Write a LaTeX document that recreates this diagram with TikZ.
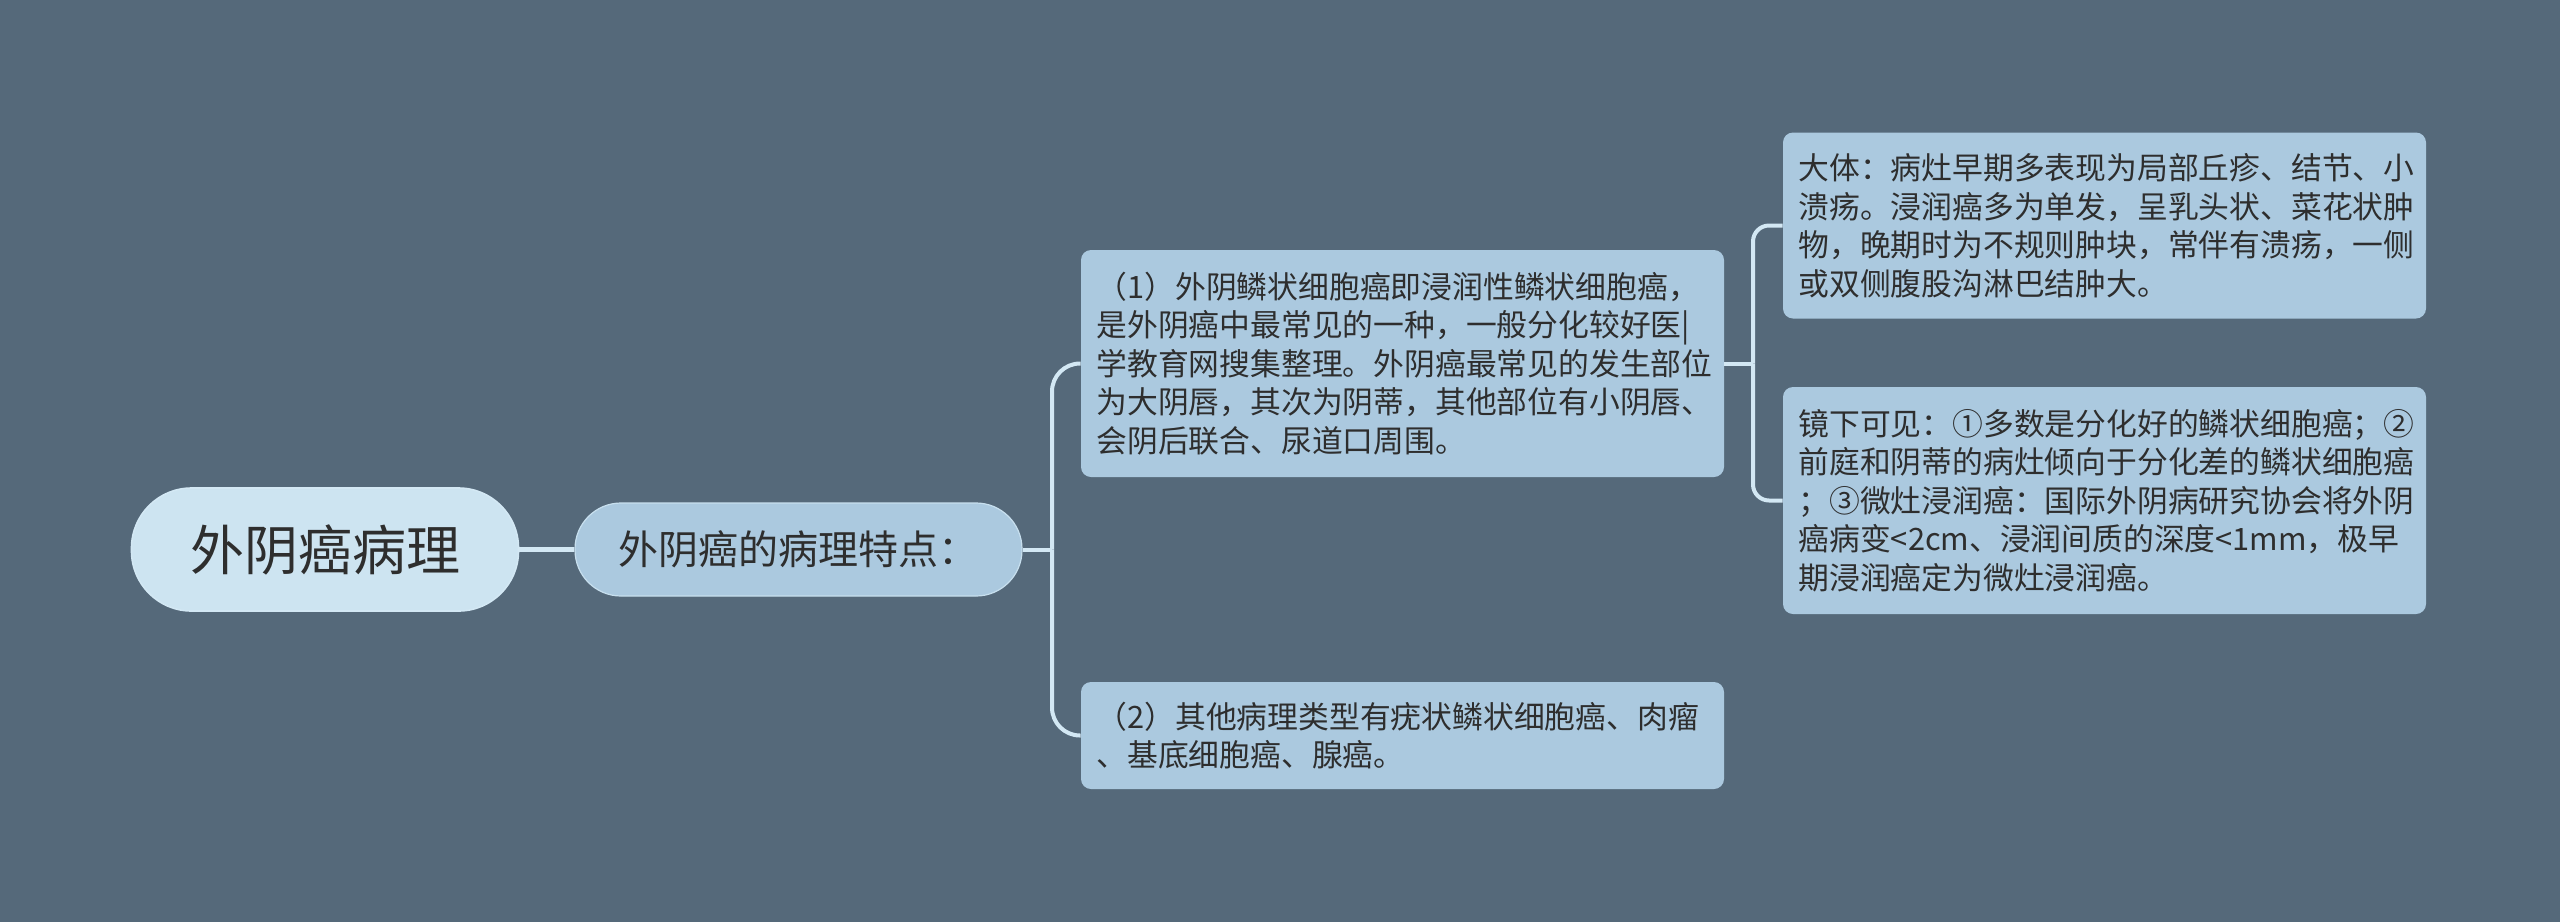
\documentclass[tikz,border=0pt]{standalone}
\usepackage{fontspec}
\newfontfamily\cjk{Noto Sans CJK SC}
\definecolor{bgc}{HTML}{55697A}
\definecolor{rootfill}{HTML}{CDE4F1}
\definecolor{boxfill}{HTML}{ABC9DF}
\definecolor{linec}{HTML}{D3E8F4}
\definecolor{txt}{HTML}{2E2E2E}
\tikzset{
  rootbox/.style={fill=rootfill, draw=linec, line width=0.8pt, rounded corners=30pt,
    minimum width=193.5pt, minimum height=61.5pt, inner sep=0pt, text=txt,
    font=\cjk\fontsize{27}{32}\selectfont},
  subbox/.style={fill=boxfill, draw=linec!70!boxfill, line width=0.6pt, rounded corners=23pt,
    minimum width=223.5pt, minimum height=46.5pt, inner sep=0pt, text=txt,
    font=\cjk\fontsize{20}{24}\selectfont},
  leafbox/.style={fill=boxfill, rounded corners=5pt, minimum width=321.5pt,
    text width=306pt, align=left, inner xsep=7.75pt, inner ysep=0pt, text=txt,
    font=\cjk\fontsize{15.4}{19.25}\selectfont},
  conn/.style={draw=linec, line width=2pt},
}
\begin{document}
\begin{tikzpicture}[x=0.5pt,y=-0.5pt]
\fill[bgc] (0,0) rectangle (2560,922);
\useasboundingbox (0,0) rectangle (2560,922);

\node[rootbox] (root) at (325,549.5) {外阴癌病理};
\node[subbox] (sub) at (798.5,549.5) {外阴癌的病理特点：};

\node[leafbox, minimum height=113.5pt] (a) at (1402.5,363.5) {（1）外阴鳞状细胞癌即浸润性鳞状细胞癌，\\是外阴癌中最常见的一种，一般分化较好医|\\学教育网搜集整理。外阴癌最常见的发生部位\\为大阴唇，其次为阴蒂，其他部位有小阴唇、\\会阴后联合、尿道口周围。};
\node[leafbox, minimum height=53.5pt] (b) at (1402.5,735.5) {（2）其他病理类型有疣状鳞状细胞癌、肉瘤\\、基底细胞癌、腺癌。};
\node[leafbox, minimum height=93pt] (c) at (2104.5,225.5) {大体：病灶早期多表现为局部丘疹、结节、小\\溃疡。浸润癌多为单发，呈乳头状、菜花状肿\\物，晚期时为不规则肿块，常伴有溃疡，一侧\\或双侧腹股沟淋巴结肿大。};
\node[leafbox, minimum height=113.5pt] (d) at (2104.5,500.5) {镜下可见：①多数是分化好的鳞状细胞癌；②\\前庭和阴蒂的病灶倾向于分化差的鳞状细胞癌\\；③微灶浸润癌：国际外阴病研究协会将外阴\\癌病变<2cm、浸润间质的深度<1mm，极早\\期浸润癌定为微灶浸润癌。};

\coordinate (j1) at (1052,549.5);
\coordinate (j2) at (1753,363.5);

\draw[conn, line width=2.6pt] (root.east) -- (sub.west);
\draw[conn] (sub.east) -- (j1);
\draw[conn, rounded corners=14pt] (j1) |- (a.west);
\draw[conn, rounded corners=14pt] (j1) |- (b.west);
\draw[conn] (a.east) -- (j2);
\draw[conn, rounded corners=8pt] (j2) |- (c.west);
\draw[conn, rounded corners=8pt] (j2) |- (d.west);
\end{tikzpicture}
\end{document}
